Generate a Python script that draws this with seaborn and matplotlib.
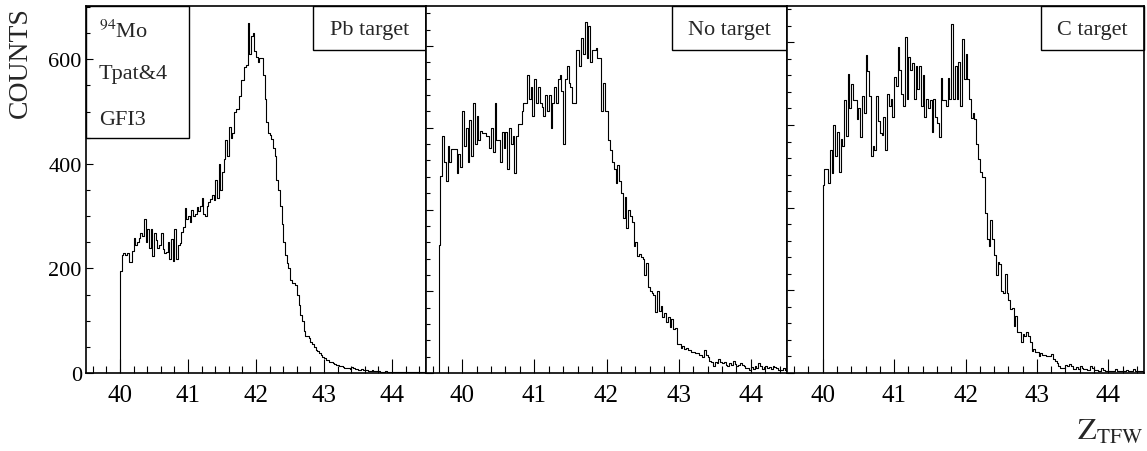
import numpy as np
import pandas as pd
import matplotlib
matplotlib.use("Agg")
import matplotlib.pyplot as plt
from matplotlib.patches import Rectangle
from matplotlib.ticker import MultipleLocator
import seaborn as sns

# bin layout of the three spectra (Z_TFW), 0.025 wide bins
bin_width = 0.025
start_pb, start_none, start_c = 40.00, 39.675, 40.00

# counts per bin (one row = 0.25 in Z)
counts_pb = [
    195, 225, 230, 226, 230, 212, 212, 234, 259, 245,
    250, 258, 268, 262, 294, 250, 275, 240, 275, 224,
    268, 255, 240, 245, 268, 237, 230, 232, 250, 218,
    256, 215, 275, 218, 245, 248, 270, 280, 316, 295,
    300, 288, 312, 300, 305, 318, 310, 320, 335, 305,
    300, 320, 328, 333, 340, 330, 370, 335, 400, 350,
    385, 410, 445, 415, 470, 450, 460, 500, 505, 505,
    530, 560, 560, 585, 590, 670, 610, 645, 650, 615,
    605, 595, 603, 603, 570, 525, 480, 460, 455, 448,
    430, 415, 370, 350, 320, 285, 250, 225, 210, 200,
    178, 172, 172, 168, 150, 130, 110, 100, 80, 70,
    70, 66, 60, 56, 50, 44, 42, 38, 35, 31,
    28, 24, 25, 21, 21, 19, 18, 16, 15, 13,
    13, 11, 10, 10, 9, 8, 12, 10, 7, 7,
    6, 6, 8, 6, 5, 5, 4, 4, 5, 3,
    3, 3, 3, 2, 2, 2, 3, 2, 2, 2,
    2, 2, 1, 1, 2, 1, 1, 2, 2, 1,
    2, 2, 1, 1, 2, 1, 1, 1, 2, 1,
]
counts_none = [
    156,
    241, 290, 258, 235, 278, 258, 274, 274, 274, 245, 268, 252,
    320, 278, 300, 258, 310, 265, 330, 280, 315, 285,
    296, 294, 294, 290, 290, 275, 300, 270, 330, 285,
    285, 258, 295, 275, 295, 250, 300, 280, 290, 245,
    290, 305, 305, 320, 330, 330, 365, 335, 350, 315,
    360, 330, 350, 330, 325, 315, 340, 320, 340, 300,
    330, 350, 330, 360, 365, 345, 280, 360, 375, 355,
    350, 330, 330, 395, 395, 375, 410, 390, 430, 385,
    425, 380, 395, 395, 398, 385, 385, 320, 355, 320,
    320, 285, 273, 258, 250, 232, 255, 235, 220, 190,
    215, 178, 200, 192, 185, 155, 160, 143, 145, 142,
    140, 120, 135, 105, 100, 98, 95, 75, 100, 76,
    82, 68, 74, 62, 68, 56, 66, 54, 55, 35,
    35, 31, 33, 29, 30, 28, 28, 26, 26, 24,
    24, 22, 22, 20, 28, 22, 19, 15, 13, 9,
    14, 12, 17, 13, 12, 14, 10, 8, 12, 10,
    15, 11, 8, 10, 12, 10, 8, 6, 6, 4,
    7, 5, 8, 6, 12, 8, 5, 7, 8, 6,
    7, 5, 9, 7, 6, 4, 4, 4, 6, 4,
]
counts_c = [
    227, 247, 247, 230, 270, 242, 300, 262, 292, 243,
    283, 275, 330, 287, 362, 320, 350, 330, 330, 307,
    320, 285, 335, 315, 385, 365, 335, 262, 275, 270,
    335, 305, 290, 288, 310, 270, 338, 323, 332, 310,
    358, 347, 394, 366, 337, 323, 406, 332, 382, 366,
    375, 331, 372, 344, 372, 323, 360, 310, 332, 320,
    330, 291, 332, 310, 303, 285, 357, 330, 330, 323,
    357, 332, 422, 332, 372, 332, 376, 323, 404, 356,
    386, 356, 332, 308, 315, 307, 277, 259, 243, 237,
    237, 193, 162, 154, 185, 162, 143, 118, 134, 132,
    99, 97, 120, 97, 88, 78, 79, 57, 69, 49,
    49, 37, 47, 45, 49, 45, 37, 27, 29, 25,
    25, 21, 24, 22, 22, 20, 21, 21, 23, 17,
    14, 12, 8, 6, 6, 6, 10, 8, 11, 9,
    5, 5, 7, 5, 8, 6, 5, 5, 4, 4,
    8, 6, 4, 4, 3, 3, 6, 4, 3, 3,
    2, 2, 3, 3, 5, 3, 2, 2, 3, 3,
    4, 2, 2, 2, 5, 3, 3, 3, 2, 2,
]
panel_labels = ["Pb target", "No target", "C target"]
info_lines = [r"$^{94}$Mo", "Tpat&4", "GFI3"]

sns.set_style("ticks")
plt.rcParams["font.family"] = ["Liberation Serif", "DejaVu Serif"]
plt.rcParams["mathtext.fontset"] = "stix"

fig = plt.figure(figsize=(11.47, 4.52), dpi=100)
W, H = 1147, 452
bottom, height = (H - 374) / H, 367 / H
rects = [(86, 340), (426, 361), (787, 357)]
ytops = [702, 449, 444]
starts = [start_pb, start_none, start_c]
series = [counts_pb, counts_none, counts_c]
box_left = [0.668, 0.681, 0.711]

for i, (x0, w) in enumerate(rects):
    ax = fig.add_axes([x0 / W, bottom, w / W, height])
    cnt = np.array([0] + series[i], dtype=float)
    lo = starts[i] - bin_width
    edges = lo + bin_width * np.arange(len(cnt) + 1)
    df = pd.DataFrame({"z": (edges[:-1] + edges[1:]) / 2, "n": cnt})
    sns.histplot(data=df, x="z", weights="n", bins=edges.tolist(), element="step",
                 fill=False, color="black", linewidth=0.8, ax=ax)
    ax.set_xlim(39.5, 44.5)
    ax.set_ylim(0, ytops[i])
    ax.set_xlabel("")
    ax.set_ylabel("")
    ax.xaxis.set_major_locator(MultipleLocator(1))
    ax.xaxis.set_minor_locator(MultipleLocator(0.2))
    if i == 0:
        ax.yaxis.set_major_locator(MultipleLocator(200))
        ax.yaxis.set_minor_locator(MultipleLocator(50))
    else:
        ax.yaxis.set_major_locator(MultipleLocator(100))
        ax.yaxis.set_minor_locator(MultipleLocator(20))
        ax.tick_params(axis="y", labelleft=False)
    ax.tick_params(axis="both", which="both", direction="in", width=0.8, colors="black")
    ax.tick_params(axis="x", which="major", length=10, pad=8, labelsize=18)
    ax.tick_params(axis="x", which="minor", length=5)
    ax.tick_params(axis="y", which="major", length=5, pad=3, labelsize=16)
    ax.tick_params(axis="y", which="minor", length=3)
    for s in ax.spines.values():
        s.set_linewidth(1.2)
        s.set_color("black")
    # label box in top right corner
    bl = box_left[i]
    ax.add_patch(Rectangle((bl, 0.880), 1 - bl, 0.12, transform=ax.transAxes,
                           fill=False, edgecolor="black", linewidth=1.0, clip_on=False))
    ax.text((bl + 1) / 2, 0.935, panel_labels[i], transform=ax.transAxes,
            ha="center", va="center", fontsize=16)
    if i == 0:
        ax.add_patch(Rectangle((0, 0.640), 0.303, 0.36, transform=ax.transAxes,
                               fill=False, edgecolor="black", linewidth=1.0, clip_on=False))
        for txt, yy in zip(info_lines, [0.932, 0.815, 0.692]):
            ax.text(0.038, yy, txt, transform=ax.transAxes, ha="left", va="center", fontsize=16)

fig.text(20 / W, 1 - 7 / H, "COUNTS", rotation=90, ha="center", va="top", fontsize=20)
fig.text(1143 / W, 1 - 440 / H, r"$\mathrm{Z}_{\mathrm{TFW}}$", ha="right", va="baseline", fontsize=22)

fig.savefig("out.png", dpi=100)
